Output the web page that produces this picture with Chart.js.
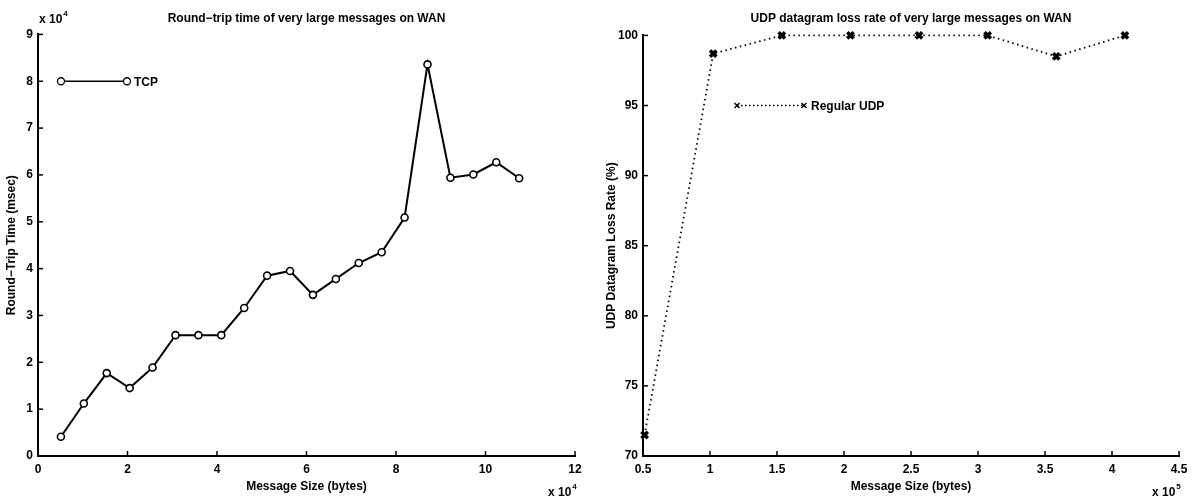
<!DOCTYPE html>
<html>
<head>
<meta charset="utf-8">
<script src="https://cdn.jsdelivr.net/npm/chart.js@4.4.0/dist/chart.umd.min.js"></script>
<style>
  html, body { margin: 0; padding: 0; background: #fff; }
  #wrap { position: relative; width: 1197px; height: 502px; }
  canvas { position: absolute; top: 0; }
  #tcpChart { left: 0; }
  #udpChart { left: 600px; }
</style>
</head>
<body>
<div id="wrap">
  <canvas id="tcpChart" width="600" height="502"></canvas>
  <canvas id="udpChart" width="597" height="502"></canvas>
</div>
<script>
// Дані: TCP, час обміну (мс)
const tcpSizes = [5120, 10240, 15360, 20480, 25600, 30720, 35840, 40960, 46080, 51200, 56320,
                  61440, 66560, 71680, 76800, 81920, 87040, 92160, 97280, 102400, 107520];
const tcpRtt = [4100, 11200, 17700, 14500, 18900, 25800, 25800, 25800, 31600, 38500, 39500,
                34400, 37800, 41200, 43500, 50900, 83600, 59400, 60100, 62700, 59300];

// Дані: UDP, втрати датаграм (%)
const udpSizes = [51200, 102400, 153600, 204800, 256000, 307200, 358400, 409600];
const udpLoss = [71.5, 98.7, 100, 100, 100, 100, 98.5, 100];

const FONT = '"Liberation Sans", Arial, sans-serif';
Chart.defaults.font.family = FONT;
Chart.defaults.color = '#000';

// Плагін: внутрішні поділки, множник осі, легенда в стилі MATLAB
const matlabAxes = {
    id: 'matlabAxes',
    afterDraw(chart, args, opts) {
        const ctx = chart.ctx;
        const a = chart.chartArea;
        const xs = chart.scales.x, ys = chart.scales.y;
        ctx.save();
        ctx.strokeStyle = '#000';
        ctx.fillStyle = '#000';
        ctx.lineWidth = 1.5;
        ctx.setLineDash([]);
        xs.ticks.forEach((t, i) => {
            const p = xs.getPixelForTick(i);
            ctx.beginPath(); ctx.moveTo(p, a.bottom); ctx.lineTo(p, a.bottom - 5); ctx.stroke();
        });
        ys.ticks.forEach((t, i) => {
            const p = ys.getPixelForTick(i);
            ctx.beginPath(); ctx.moveTo(a.left, p); ctx.lineTo(a.left + 5, p); ctx.stroke();
        });

        // множники "x 10^n"
        const power = (x, y, exp) => {
            ctx.font = 'bold 12px ' + FONT;
            ctx.textAlign = 'left';
            ctx.textBaseline = 'alphabetic';
            ctx.fillText('x 10', x, y);
            const w = ctx.measureText('x 10').width;
            ctx.font = 'bold 8px ' + FONT;
            ctx.fillText(exp, x + w + 1, y - 7);
        };
        if (opts.yExp) power(a.left + 1, a.top - 11, opts.yExp);
        if (opts.xExp) power(a.right - 27, a.bottom + 40, opts.xExp);

        // легенда
        const lg = opts.legend;
        const y = ys.getPixelForValue(lg.value);
        const x1 = a.left + lg.from, x2 = a.left + lg.to;
        ctx.lineWidth = lg.lineWidth;
        ctx.setLineDash(lg.dash);
        ctx.beginPath(); ctx.moveTo(x1, y); ctx.lineTo(x2, y); ctx.stroke();
        ctx.setLineDash([]);
        [x1, x2].forEach(x => {
            ctx.fillStyle = lg.pointFill;
            Chart.helpers.drawPoint(ctx, {
                pointStyle: lg.pointStyle, radius: lg.radius, rotation: 0, borderWidth: lg.pointBorder
            }, x, y);
        });
        ctx.fillStyle = '#000';
        ctx.font = 'bold 12px ' + FONT;
        ctx.textBaseline = 'middle';
        ctx.fillText(lg.text, x2 + 7, y + 1);
        ctx.restore();
    }
};

function baseOptions(cfg) {
    return {
        responsive: false,
        animation: false,
        layout: { padding: { left: 0, right: cfg.padRight, top: 0, bottom: 0 } },
        plugins: {
            legend: { display: false },
            tooltip: { enabled: false },
            title: {
                display: true,
                text: cfg.title,
                fullSize: false,
                font: { size: 12, weight: 'bold' },
                padding: { top: 11, bottom: cfg.titleBottom }
            },
            matlabAxes: cfg.axes
        },
        scales: {
            x: {
                type: 'linear',
                min: cfg.xMin, max: cfg.xMax,
                grid: { display: false, drawTicks: false },
                border: { display: true, color: '#000', width: 2 },
                ticks: {
                    stepSize: cfg.xStep,
                    padding: 6,
                    font: { size: 12, weight: 'bold' },
                    maxRotation: 0,
                    callback: v => Math.round(v / cfg.xDiv * 10) / 10
                },
                title: {
                    display: true, text: 'Message Size (bytes)',
                    font: { size: 12, weight: 'bold' },
                    padding: { top: 2, bottom: 8 }
                },
                afterFit: s => { s.height = 46; }
            },
            y: {
                min: cfg.yMin, max: cfg.yMax,
                grid: { display: false, drawTicks: false },
                border: { display: true, color: '#000', width: 2 },
                ticks: {
                    stepSize: cfg.yStep,
                    padding: 5,
                    font: { size: 12, weight: 'bold' },
                    callback: v => Math.round(v / cfg.yDiv * 10) / 10
                },
                title: {
                    display: true, text: cfg.yTitle,
                    font: { size: 12, weight: 'bold' },
                    padding: { top: 4, bottom: 0 }
                },
                afterFit: s => { s.width = cfg.yWidth; }
            }
        }
    };
}

// Графік 1: TCP
new Chart(document.getElementById('tcpChart').getContext('2d'), {
    type: 'line',
    data: {
        datasets: [{
            label: 'TCP',
            data: tcpSizes.map((s, i) => ({ x: s, y: tcpRtt[i] })),
            borderColor: '#000',
            borderWidth: 2,
            pointStyle: 'circle',
            pointRadius: 3.5,
            pointBorderWidth: 1.6,
            pointBackgroundColor: '#fff',
            pointBorderColor: '#000',
            tension: 0,
            clip: false
        }]
    },
    options: baseOptions({
        title: 'Round\u2212trip time of very large messages on WAN',
        titleBottom: 9,
        padRight: 25,
        xMin: 0, xMax: 120000, xStep: 20000, xDiv: 10000,
        yMin: 0, yMax: 90000, yStep: 10000, yDiv: 10000,
        yTitle: 'Round\u2212Trip Time (msec)',
        yWidth: 38,
        axes: {
            yExp: '4', xExp: '4',
            legend: { value: 80000, from: 23, to: 89, text: 'TCP', lineWidth: 1.3, dash: [],
                      pointStyle: 'circle', radius: 3.5, pointBorder: 1.6, pointFill: '#fff' }
        }
    }),
    plugins: [matlabAxes]
});

// Графік 2: UDP
new Chart(document.getElementById('udpChart').getContext('2d'), {
    type: 'line',
    data: {
        datasets: [{
            label: 'Regular UDP',
            data: udpSizes.map((s, i) => ({ x: s, y: udpLoss[i] })),
            borderColor: '#000',
            borderWidth: 1.8,
            borderDash: [1.5, 3.5],
            pointStyle: 'crossRot',
            pointRadius: 4.5,
            pointBorderWidth: 3.5,
            pointBorderColor: '#000',
            tension: 0,
            clip: false
        }]
    },
    options: baseOptions({
        title: 'UDP datagram loss rate of very large messages on WAN',
        titleBottom: 10,
        padRight: 18,
        xMin: 50000, xMax: 450000, xStep: 50000, xDiv: 100000,
        yMin: 70, yMax: 100, yStep: 5, yDiv: 1,
        yTitle: 'UDP Datagram Loss Rate (%)',
        yWidth: 43,
        axes: {
            xExp: '5',
            legend: { value: 95, from: 94, to: 161, text: 'Regular UDP', lineWidth: 1.4, dash: [1.5, 2.5],
                      pointStyle: 'crossRot', radius: 3.5, pointBorder: 1.8, pointFill: '#000' }
        }
    }),
    plugins: [matlabAxes]
});
</script>
</body>
</html>
